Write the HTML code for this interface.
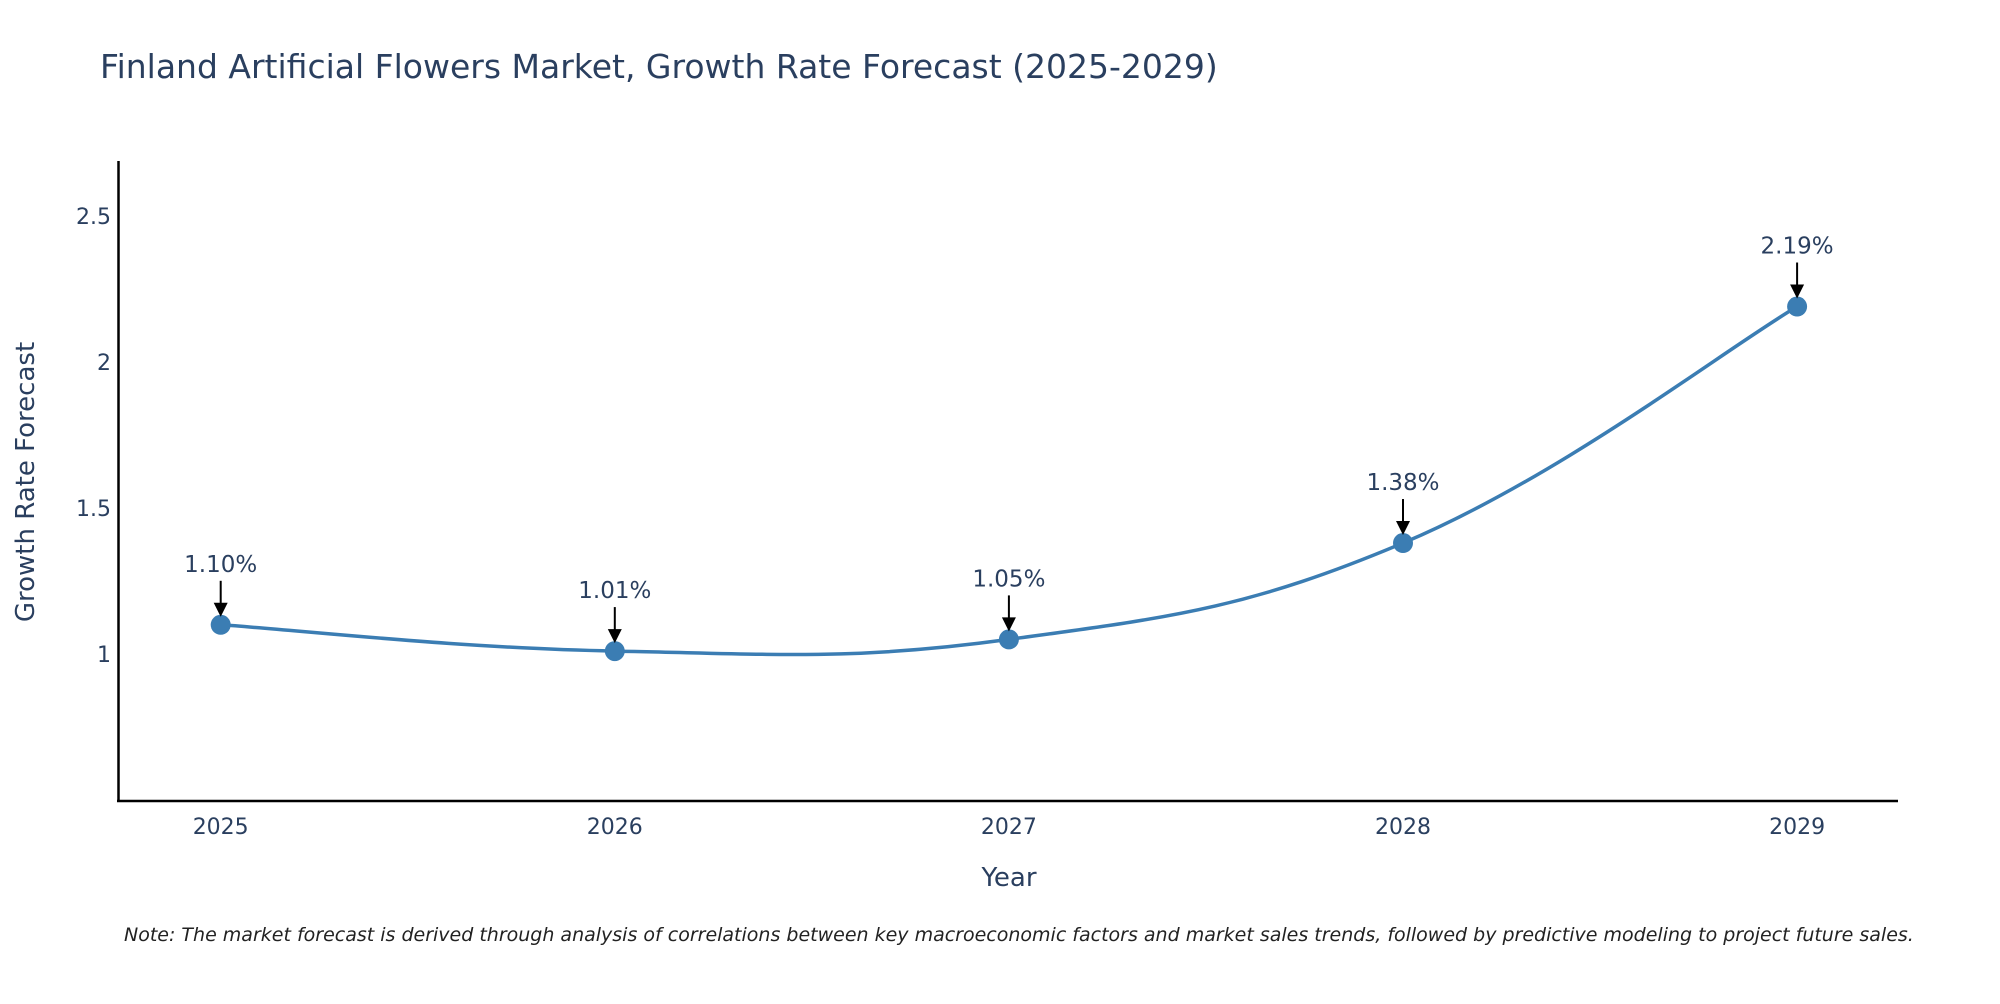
<!DOCTYPE html>
<html><head><meta charset="utf-8"><style>
body{margin:0;background:#fff;width:2000px;height:1000px;overflow:hidden;font-family:"DejaVu Sans",sans-serif}
</style></head><body>
<svg id="chart" width="2000" height="1000" xmlns="http://www.w3.org/2000/svg" font-family="DejaVu Sans, Liberation Sans, sans-serif">
<text x="100" y="78" font-size="33" fill="#2a3f5f">Finland Artificial Flowers Market, Growth Rate Forecast (2025-2029)</text>
<g id="axes"></g>
<g id="series"></g>
<text x="1009" y="886" font-size="26" fill="#2a3f5f" text-anchor="middle">Year</text>
<text transform="translate(34,482) rotate(-90)" font-size="26" fill="#2a3f5f" text-anchor="middle">Growth Rate Forecast</text>
<text x="124" y="941" font-size="19" font-style="italic" fill="#222">Note: The market forecast is derived through analysis of correlations between key macroeconomic factors and market sales trends, followed by predictive modeling to project future sales.</text>
</svg>
<script>
const years=[2025,2026,2027,2028,2029];
const values=[1.10,1.01,1.05,1.38,2.19];
const labels=["1.10%","1.01%","1.05%","1.38%","2.19%"];
const yTicks=[1,1.5,2,2.5];
const yTickLabels=["1","1.5","2","2.5"];
const NS="http://www.w3.org/2000/svg";
const xScale=v=>220.7+(v-2025)*394.1;
const yScale=v=>654-(v-1)*292;
function mk(t,a,p){const e=document.createElementNS(NS,t);for(const k in a)e.setAttribute(k,a[k]);p.appendChild(e);return e;}
const ax=document.getElementById('axes'),se=document.getElementById('series');
const yl=mk('line',{x1:118.5,y1:161,x2:118.5,y2:802,stroke:'#000','stroke-width':2.5},ax);


const xl=mk('line',{x1:117,y1:801,x2:1898,y2:801,stroke:'#000','stroke-width':2.5},ax);


yTicks.forEach((v,i)=>{const t=mk('text',{x:111,y:yScale(v)+8,'font-size':22,fill:'#2a3f5f','text-anchor':'end'},ax);t.textContent=yTickLabels[i];

});
years.forEach(y=>{const t=mk('text',{x:xScale(y),y:834,'font-size':22,fill:'#2a3f5f','text-anchor':'middle'},ax);t.textContent=y;

});
const pts=years.map((y,i)=>[xScale(y),yScale(values[i])]);
let d=`M${pts[0][0]},${pts[0][1]}`;
for(let i=0;i<pts.length-1;i++){const p0=pts[i-1]||pts[i],p1=pts[i],p2=pts[i+1],p3=pts[i+2]||p2;const k=0.2;
d+=` C${p1[0]+(p2[0]-p0[0])*k},${p1[1]+(p2[1]-p0[1])*k} ${p2[0]-(p3[0]-p1[0])*k},${p2[1]-(p3[1]-p1[1])*k} ${p2[0]},${p2[1]}`;}
const line=mk('path',{d:d,fill:'none',stroke:'#3b7db3','stroke-width':3.5},se);


pts.forEach((p,i)=>{
const c=mk('circle',{cx:p[0],cy:p[1],r:10,fill:'#3b7db3'},se);


const a=mk('line',{x1:p[0],y1:p[1]-44,x2:p[0],y2:p[1]-20,stroke:'#000','stroke-width':2},se);


const h=mk('polygon',{points:`${p[0]-7},${p[1]-22} ${p[0]+7},${p[1]-22} ${p[0]},${p[1]-8}`,fill:'#000'},se);


const t=mk('text',{x:p[0],y:p[1]-53,'font-size':23,fill:'#2a3f5f','text-anchor':'middle'},se);t.textContent=labels[i];


});
</script>
</body></html>
